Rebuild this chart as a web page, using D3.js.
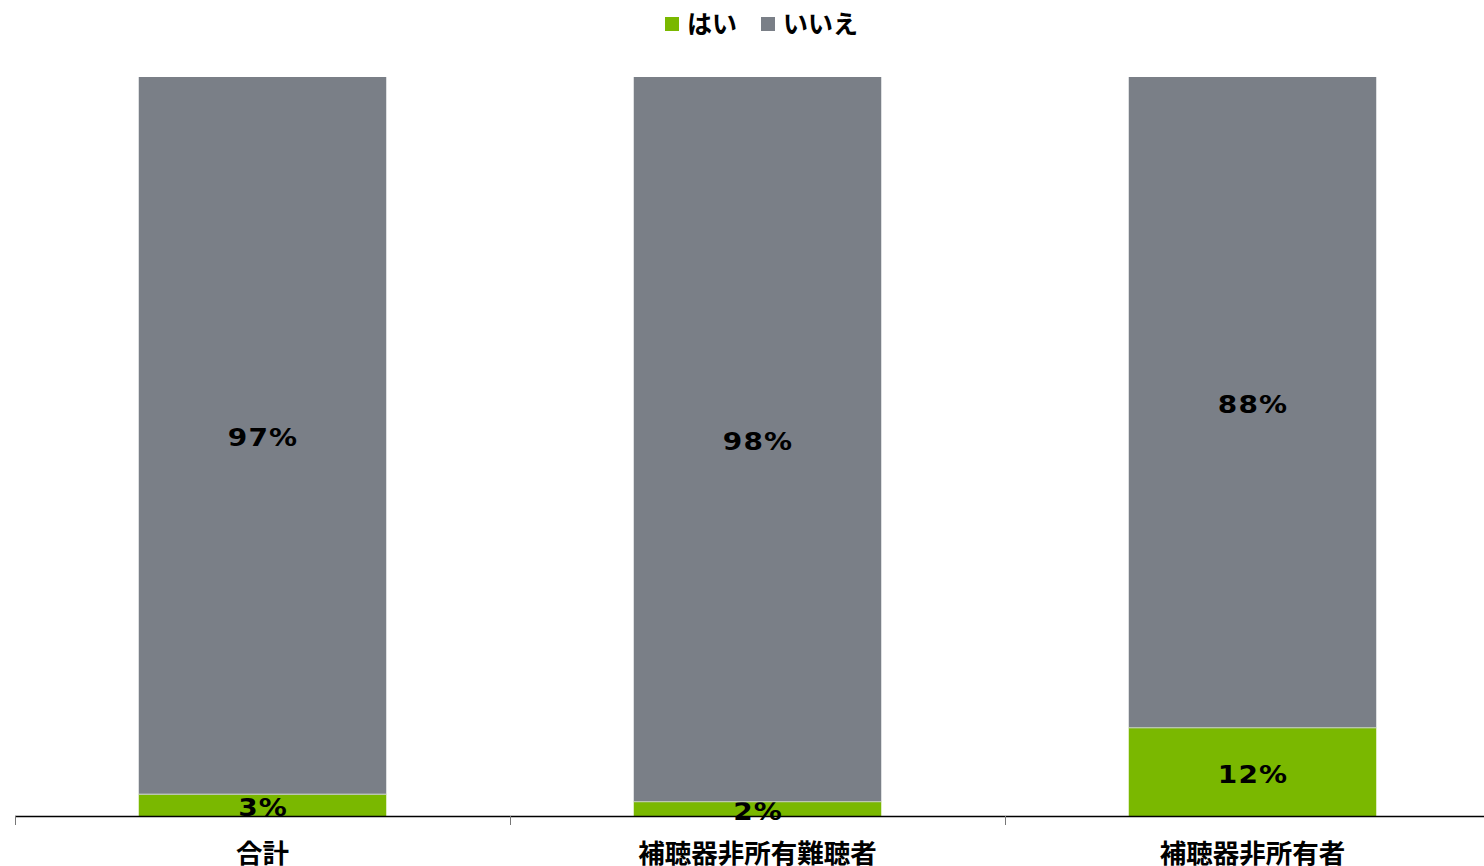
<!DOCTYPE html>
<html lang="ja">
<head>
<meta charset="utf-8">
<script src="https://cdn.jsdelivr.net/npm/d3@7"></script>
<style>
  html, body { margin: 0; padding: 0; background: #fff; }
  svg { display: block; }
  text { font-family: "DejaVu Sans", Verdana, "Noto Sans CJK JP", sans-serif; font-weight: bold; fill: #000; }
</style>
</head>
<body>
<svg id="chart" width="1484" height="866"></svg>
<script>
// Categories and shares (%) of each answer
const categories = ["合計", "補聴器非所有難聴者", "補聴器非所有者"];
const seriesNames = ["はい", "いいえ"];
const yesValues = [3, 2, 12];
const noValues = [97, 98, 88];
const colors = ["#7ab800", "#7a7f87"];

const svg = d3.select("#chart");
const W = 1484, H = 866;
const baseY = 816, topY = 77;

const x = d3.scaleBand().domain(categories).range([15, 1500])
  .paddingInner(0.5).paddingOuter(0.25);
const y = d3.scaleLinear().domain([0, 100]).range([baseY, topY]);
const color = d3.scaleOrdinal().domain(seriesNames).range(colors);

const rows = categories.map((c, i) => ({ cat: c, "はい": yesValues[i], "いいえ": noValues[i] }));
const stacked = d3.stack().keys(seriesNames)(rows);

// Stacked segments
const layers = svg.append("g").selectAll("g").data(stacked).join("g")
  .attr("fill", d => color(d.key));
layers.selectAll("rect").data(d => d).join("rect")
  .attr("x", d => x(d.data.cat))
  .attr("width", x.bandwidth())
  .attr("y", d => y(d[1]))
  .attr("height", d => y(d[0]) - y(d[1]));

// Thin light line between segments
svg.append("g").selectAll("line").data(stacked[0]).join("line")
  .attr("x1", d => x(d.data.cat)).attr("x2", d => x(d.data.cat) + x.bandwidth())
  .attr("y1", d => y(d[1]) + 0.5).attr("y2", d => y(d[1]) + 0.5)
  .attr("stroke", "#c8ccd0").attr("stroke-width", 1);

// Value labels centred in each segment (slightly widened glyphs)
layers.selectAll("text").data(d => d).join("text")
  .attr("transform", d => `translate(${x(d.data.cat) + x.bandwidth() / 2 + 0.5},${(y(d[0]) + y(d[1])) / 2 + 2}) scale(1.12,1)`)
  .attr("text-anchor", "middle")
  .attr("dominant-baseline", "central")
  .attr("font-size", 25)
  .attr("letter-spacing", 1)
  .attr("fill", "#000")
  .text(d => (d[1] - d[0]) + "%");

// Category axis along the baseline
const axis = d3.axisBottom(x).tickSize(0).tickPadding(0);
const gx = svg.append("g").attr("transform", `translate(0,${baseY})`).call(axis);
gx.select(".domain").remove();
gx.selectAll("text").attr("y", 35.5).attr("dy", null)
  .attr("font-size", 26.5).attr("dominant-baseline", "central")
  .style("font-family", "'Noto Sans CJK JP', sans-serif").style("font-weight", "bold");
svg.append("line").attr("x1", 15).attr("x2", W).attr("y1", baseY + 0.5).attr("y2", baseY + 0.5)
  .attr("stroke", "#000").attr("stroke-width", 1.5);
// Category boundary ticks
const step = x.step();
svg.append("g").selectAll("line").data(d3.range(categories.length + 1)).join("line")
  .attr("x1", i => 15 + i * step + 0.5).attr("x2", i => 15 + i * step + 0.5)
  .attr("y1", baseY).attr("y2", baseY + 9)
  .attr("stroke", "#777").attr("stroke-width", 1);

// Legend
const legend = svg.append("g");
const legendItems = [{ name: seriesNames[0], x: 665 }, { name: seriesNames[1], x: 761 }];
legendItems.forEach(it => {
  legend.append("rect").attr("x", it.x).attr("y", 17).attr("width", 14).attr("height", 14)
    .attr("fill", color(it.name));
  legend.append("text").attr("x", it.x + 22).attr("y", 22)
    .attr("dominant-baseline", "central").attr("font-size", 25)
    .style("font-family", "'Noto Sans CJK JP', sans-serif").style("font-weight", "bold")
    .text(it.name);
});
</script>
</body>
</html>
